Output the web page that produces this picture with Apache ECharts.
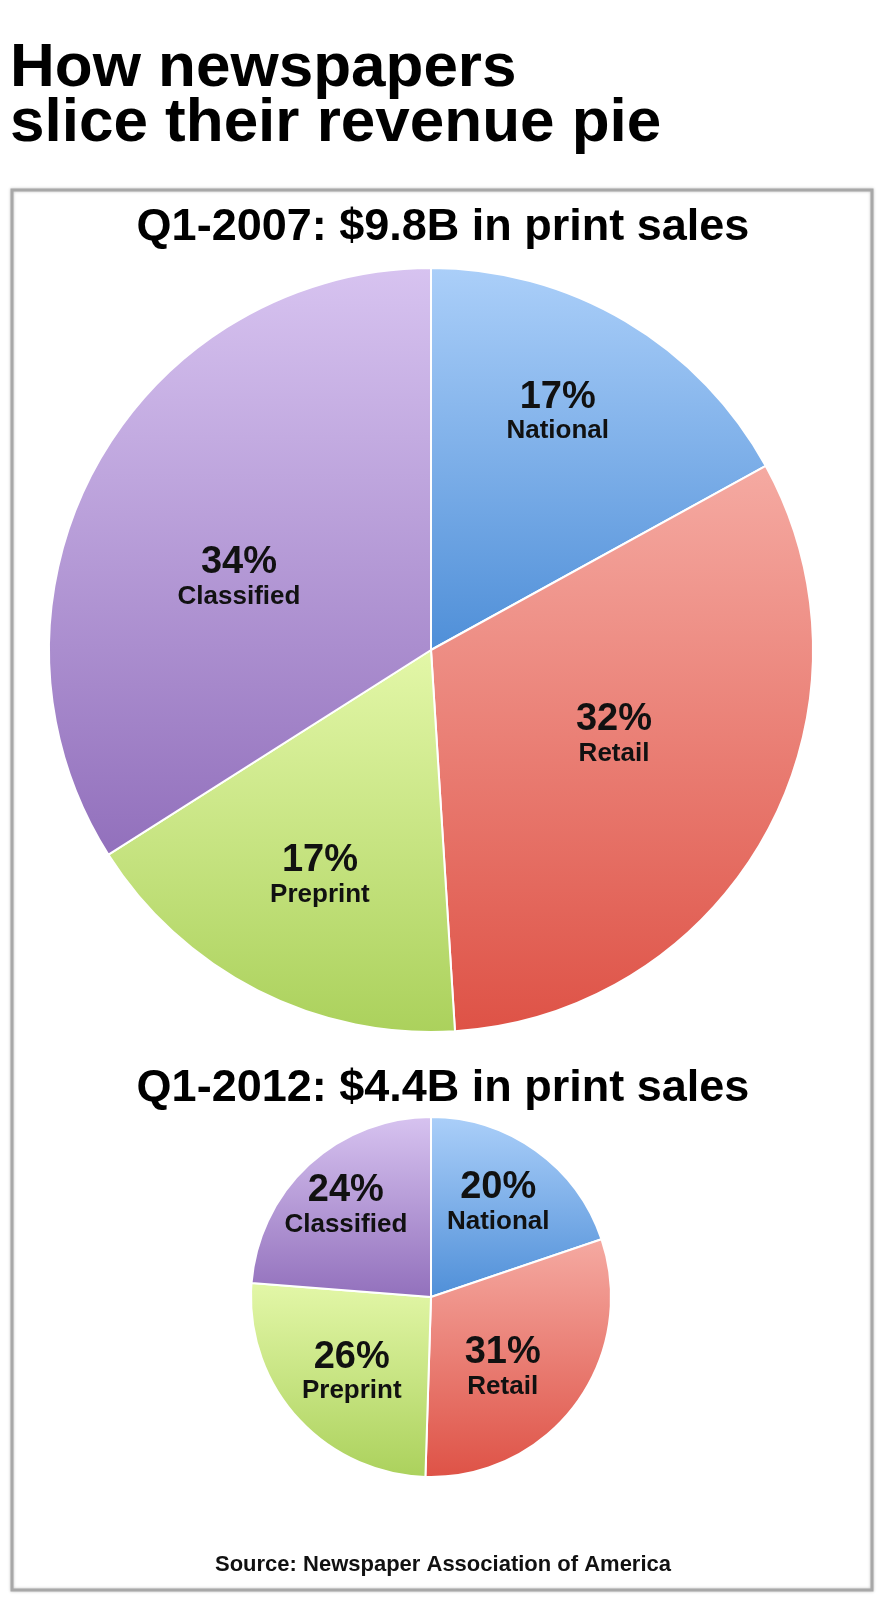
<!DOCTYPE html>
<html>
<head>
<meta charset="utf-8">
<script src="https://cdn.jsdelivr.net/npm/echarts@6/dist/echarts.min.js"></script>
<style>
html,body{margin:0;padding:0;background:#fff;}
#chart{width:886px;height:1600px;}
</style>
</head>
<body>
<div id="chart"></div>
<script>
// ---- data ----
const categories = ['National', 'Retail', 'Preprint', 'Classified'];
const share2007 = [17, 32, 17, 34];
const share2012 = [20, 31, 26, 24];
const mainTitle = 'How newspapers\nslice their revenue pie';
const title2007 = 'Q1-2007: $9.8B in print sales';
const title2012 = 'Q1-2012: $4.4B in print sales';
const sourceText = 'Source: Newspaper Association of America';

// ---- styling ----
const FONT = '"Liberation Sans", Arial, Helvetica, sans-serif';
const gradients = [
  ['#abcff9', '#4f8fd8'],
  ['#f5aaa2', '#de5246'],
  ['#e3f7a8', '#abd15c'],
  ['#d7c3f0', '#9270bc']
];
const labelOffsetBig = [[28, -71], [13, -9], [-23, 53], [-22, 21]];
const labelOffsetSmall = [[13, -19], [-3, 15], [-10, 13], [-22, -23]];

function buildData(values, offsets) {
  return categories.map((name, i) => ({
    name: name,
    value: values[i],
    itemStyle: {
      color: new echarts.graphic.LinearGradient(0, 0, 0, 1, [
        { offset: 0, color: gradients[i][0] },
        { offset: 1, color: gradients[i][1] }
      ])
    },
    label: { offset: offsets[i] }
  }));
}

const labelCfg = {
  show: true,
  position: 'inside',
  formatter: '{p|{c}%}\n{n|{b}}',
  rich: {
    p: { fontFamily: FONT, fontSize: 38, fontWeight: 'bold', color: '#111', lineHeight: 38, align: 'center' },
    n: { fontFamily: FONT, fontSize: 26, fontWeight: 'bold', color: '#111', lineHeight: 30, align: 'center' }
  }
};

function pieSeries(values, center, radius, offsets) {
  return {
    type: 'pie',
    center: center,
    radius: radius,
    startAngle: 90,
    clockwise: true,
    silent: true,
    avoidLabelOverlap: false,
    labelLine: { show: false },
    label: labelCfg,
    itemStyle: { borderColor: '#ffffff', borderWidth: 2 },
    emphasis: { disabled: true },
    data: buildData(values, offsets)
  };
}

const chart = echarts.init(document.getElementById('chart'), null, { renderer: 'canvas' });
chart.setOption({
  backgroundColor: '#ffffff',
  animation: false,
  title: [
    {
      text: mainTitle, left: 10, top: 41, padding: 0,
      textStyle: { fontFamily: FONT, fontSize: 62, fontWeight: 'bold', color: '#000', lineHeight: 55 }
    },
    {
      text: title2007, left: 'center', top: 205, padding: 0,
      textStyle: { fontFamily: FONT, fontSize: 45, fontWeight: 'bold', color: '#000', lineHeight: 45 }
    },
    {
      text: title2012, left: 'center', top: 1066, padding: 0,
      textStyle: { fontFamily: FONT, fontSize: 45, fontWeight: 'bold', color: '#000', lineHeight: 45 }
    },
    {
      text: sourceText, left: 'center', top: 1554, padding: 0,
      textStyle: { fontFamily: FONT, fontSize: 22, fontWeight: 'bold', color: '#111', lineHeight: 22 }
    }
  ],
  graphic: [
    {
      type: 'rect', silent: true, z: -1,
      shape: { x: 12, y: 190, width: 860, height: 1400 },
      style: { fill: 'none', stroke: '#a8a8a8', lineWidth: 3, shadowBlur: 3, shadowColor: 'rgba(0,0,0,0.25)' }
    }
  ],
  series: [
    pieSeries(share2007, [431, 650], 382, labelOffsetBig),
    pieSeries(share2012, [431, 1297], 180, labelOffsetSmall)
  ]
});
</script>
</body>
</html>
